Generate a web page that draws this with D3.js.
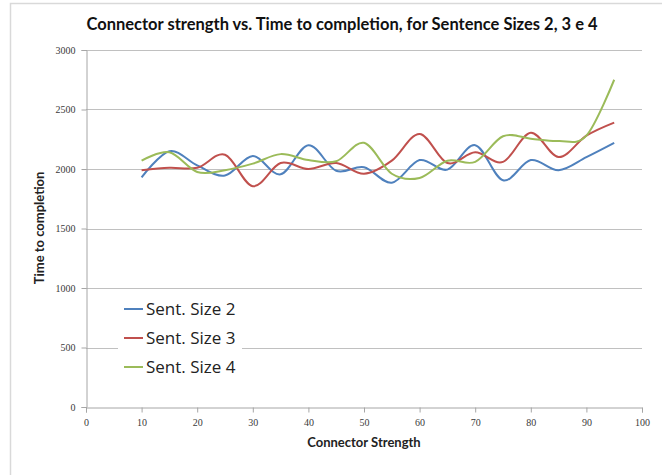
<!DOCTYPE html>
<html>
<head>
<meta charset="utf-8">
<script src="https://cdn.jsdelivr.net/npm/d3@7"></script>
<style>
  body { margin: 0; background: #fff; }
  svg { display: block; }
</style>
</head>
<body>
<svg id="chart" width="662" height="475"></svg>
<script>
var strength = [10, 15, 20, 25, 30, 35, 40, 45, 50, 55, 60, 65, 70, 75, 80, 85, 90, 95];
var size2 = [1930, 2150, 2030, 1945, 2110, 1955, 2200, 1985, 2015, 1885, 2075, 1995, 2200, 1905, 2075, 1990, 2100, 2220];
var size3 = [1990, 2010, 2010, 2120, 1855, 2050, 2000, 2050, 1960, 2070, 2295, 2050, 2140, 2060, 2305, 2100, 2280, 2390];
var size4 = [2070, 2140, 1975, 1990, 2045, 2125, 2075, 2065, 2220, 1960, 1925, 2070, 2060, 2275, 2255, 2235, 2280, 2750];
var seriesNames = ["Sent. Size 2", "Sent. Size 3", "Sent. Size 4"];
var colors = ["#4f81bd", "#c0504d", "#9bbb59"];
var xTicks = [0, 10, 20, 30, 40, 50, 60, 70, 80, 90, 100];
var yTicks = [0, 500, 1000, 1500, 2000, 2500, 3000];

function drawChart() {
    var svg = d3.select("#chart");
    var left = 86, right = 642, top = 50, bottom = 407;

    var x = d3.scaleLinear().domain([0, 100]).range([left, right]);
    var y = d3.scaleLinear().domain([0, 3000]).range([bottom, top]);

    // outer frame (only top and left edges visible)
    svg.append("path")
        .attr("d", "M10.5,475V3.5H662")
        .attr("fill", "none")
        .attr("stroke", "#d9d9d9")
        .attr("stroke-width", 1.5);

    // gridlines
    svg.append("g")
        .selectAll("line")
        .data(yTicks.slice(1))
        .enter()
        .append("line")
        .attr("x1", left)
        .attr("x2", right)
        .attr("y1", function(d) { return Math.round(y(d)) + 0.5; })
        .attr("y2", function(d) { return Math.round(y(d)) + 0.5; })
        .attr("stroke", "#c0c0c0");

    var yAxis = svg.append("g")
        .attr("transform", "translate(" + (left + 0.5) + ",0)")
        .call(d3.axisLeft(y).tickValues(yTicks).tickFormat(d3.format("d")).tickSize(5).tickPadding(6));
    var xAxis = svg.append("g")
        .attr("transform", "translate(0," + (bottom + 0.5) + ")")
        .call(d3.axisBottom(x).tickValues(xTicks).tickFormat(d3.format("d")).tickSize(5).tickPadding(6));

    [yAxis, xAxis].forEach(function(g) {
        g.select(".domain").attr("stroke", "#a6a6a6");
        g.selectAll(".tick line").attr("stroke", "#a6a6a6");
        g.selectAll("text")
            .attr("font-family", "'Liberation Serif', serif")
            .attr("font-size", 10)
            .attr("fill", "#3a3a3a");
    });

    var line = d3.line()
        .x(function(d) { return x(d[0]); })
        .y(function(d) { return y(d[1]); })
        .curve(d3.curveCardinal.tension(0));

    var allSeries = [size2, size3, size4];
    svg.append("g")
        .selectAll("path")
        .data(allSeries)
        .enter()
        .append("path")
        .attr("d", function(s) { return line(strength.map(function(v, i) { return [v, s[i]]; })); })
        .attr("fill", "none")
        .attr("stroke", function(d, i) { return colors[i]; })
        .attr("stroke-width", 2);

    // legend
    var legend = svg.append("g");
    legend.append("rect")
        .attr("x", 118).attr("y", 292)
        .attr("width", 124).attr("height", 92)
        .attr("fill", "#fff");
    var items = legend.selectAll("g")
        .data(seriesNames)
        .enter()
        .append("g")
        .attr("transform", function(d, i) { return "translate(124," + (309 + i * 29) + ")"; });
    items.append("line")
        .attr("x1", 0).attr("x2", 19)
        .attr("stroke", function(d, i) { return colors[i]; })
        .attr("stroke-width", 2);
    items.append("text")
        .attr("x", 22)
        .attr("dy", "0.35em")
        .attr("font-family", "'Open Sans', sans-serif")
        .attr("font-size", 17)
        .attr("fill", "#222")
        .text(function(d) { return d; });

    svg.append("text")
        .attr("x", 342).attr("y", 30)
        .attr("text-anchor", "middle")
        .attr("font-family", "Lato, sans-serif")
        .attr("font-weight", "bold")
        .attr("font-size", 16.5)
        .attr("fill", "#111")
        .text("Connector strength vs. Time to completion, for Sentence Sizes 2, 3 e 4");

    svg.append("text")
        .attr("x", 364).attr("y", 447)
        .attr("text-anchor", "middle")
        .attr("font-family", "Lato, sans-serif")
        .attr("font-weight", "bold")
        .attr("font-size", 13)
        .attr("fill", "#222")
        .text("Connector Strength");

    svg.append("text")
        .attr("transform", "translate(44,228) rotate(-90)")
        .attr("text-anchor", "middle")
        .attr("font-family", "Lato, sans-serif")
        .attr("font-weight", "bold")
        .attr("font-size", 13)
        .attr("fill", "#222")
        .text("Time to completion");
}

drawChart();
</script>
</body>
</html>
